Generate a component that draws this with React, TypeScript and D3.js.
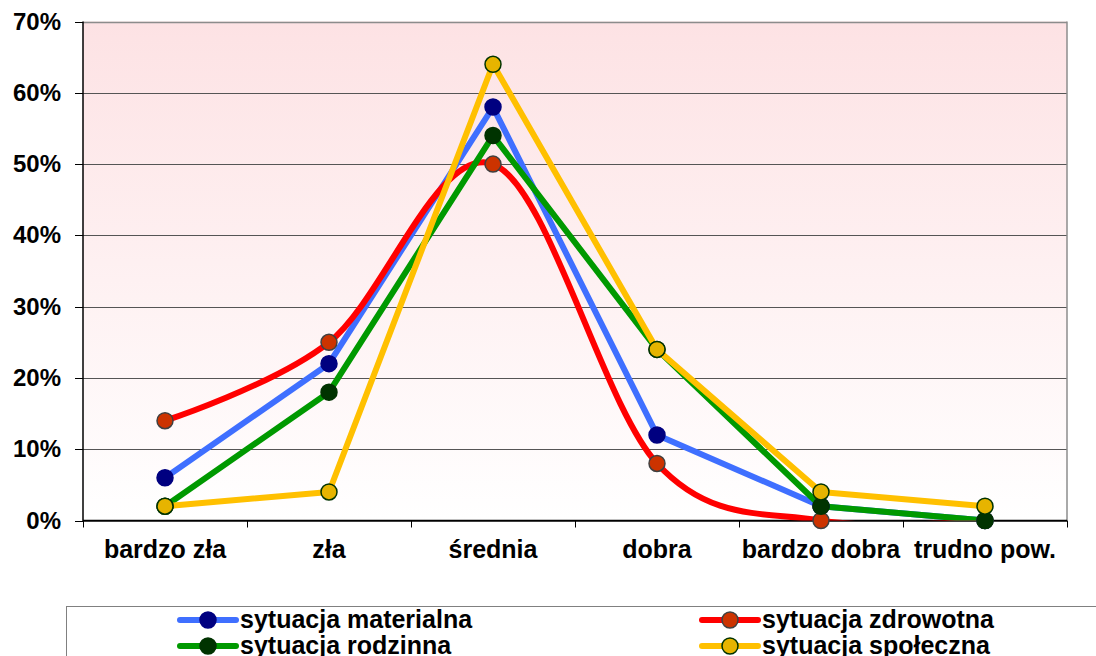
import React from "react";
import * as d3 from "d3";

// categories and series values (percent)
const categories = ["bardzo zła", "zła", "średnia", "dobra", "bardzo dobra", "trudno pow."];
const materialna = [6, 22, 58, 12, 2, 0];
const zdrowotna = [14, 25, 50, 8, 0, 0];
const rodzinna = [2, 18, 54, 24, 2, 0];
const spoleczna = [2, 4, 64, 24, 4, 2];
const yTicks = [0, 10, 20, 30, 40, 50, 60, 70];

const series = [
  { name: "sytuacja materialna", values: materialna, line: "#3F6FFF", fill: "#000080", stroke: "#000080", smooth: false },
  { name: "sytuacja zdrowotna", values: zdrowotna, line: "#FF0000", fill: "#CC3300", stroke: "#404040", smooth: true },
  { name: "sytuacja rodzinna", values: rodzinna, line: "#009900", fill: "#003300", stroke: "#003300", smooth: false },
  { name: "sytuacja społeczna", values: spoleczna, line: "#FFC000", fill: "#E6B400", stroke: "#003300", smooth: false },
];

export default function App() {
  const width = 1096;
  const height = 656;
  const left = 83;
  const right = 1067;
  const top = 21.5;
  const bottom = 520.5;

  const x = d3.scaleBand().domain(categories).range([left, right]);
  const y = d3.scaleLinear().domain([0, 70]).range([bottom, top]);
  const cx = (i: number) => (x(categories[i]) as number) + x.bandwidth() / 2;

  const straight = d3.line<number>().x((_, i) => cx(i)).y(d => y(d));
  const smooth = d3.line<number>().x((_, i) => cx(i)).y(d => y(d)).curve(d3.curveCardinal.tension(0));

  const font = "'Liberation Sans', Arial, sans-serif";

  // legend: 2 columns, row-major
  const legendCols = [180, 702];
  const legendRows = [620, 646];

  return (
    <svg width={width} height={height} style={{ position: "absolute", left: 0, top: 0, display: "block" }}>
      <defs>
        <linearGradient id="bg" x1="0" y1="0" x2="0" y2="1">
          <stop offset="0%" stopColor="#FDE2E4" />
          <stop offset="100%" stopColor="#FFFFFF" />
        </linearGradient>
        <clipPath id="plot">
          <rect x={left} y={top - 15} width={right - left} height={bottom - top + 15} />
        </clipPath>
      </defs>
      <rect width={width} height={height} fill="#fff" />
      <rect x={left} y={top} width={right - left} height={bottom - top} fill="url(#bg)" />

      {/* gridlines */}
      {yTicks.map(t => (
        <line key={t} x1={left} x2={right} y1={Math.round(y(t)) + 0.5} y2={Math.round(y(t)) + 0.5}
          stroke={t === 70 ? "#8c8c8c" : "#555"} strokeWidth={t === 70 ? 1.5 : 1} />
      ))}
      <line x1={right} x2={right} y1={top} y2={bottom} stroke="#8c8c8c" strokeWidth={1.5} />

      {/* axes */}
      <line x1={left} x2={left} y1={top} y2={bottom + 0.5} stroke="#000" strokeWidth={1.5} />
      <line x1={left} x2={right} y1={bottom} y2={bottom} stroke="#000" strokeWidth={1.5} />
      {yTicks.map(t => (
        <g key={t}>
          <line x1={left - 8} x2={left} y1={Math.round(y(t)) + 0.5} y2={Math.round(y(t)) + 0.5} stroke="#000" />
          <text x={61} y={y(t) + 8} textAnchor="end" fontFamily={font} fontWeight="bold" fontSize={24} fill="#000">
            {t}%
          </text>
        </g>
      ))}
      {categories.map((c, i) => (
        <line key={"t" + i} x1={Math.round(x(c) as number) + 0.5} x2={Math.round(x(c) as number) + 0.5}
          y1={bottom} y2={bottom + 7} stroke="#000" />
      ))}
      <line x1={right + 0.5} x2={right + 0.5} y1={bottom} y2={bottom + 7} stroke="#000" />
      {categories.map((c, i) => (
        <text key={c} x={cx(i)} y={558} textAnchor="middle" fontFamily={font} fontWeight="bold" fontSize={25} fill="#000">
          {c}
        </text>
      ))}

      {/* series */}
      <g clipPath="url(#plot)">
        {series.map(s => (
          <path key={s.name} d={(s.smooth ? smooth : straight)(s.values) || ""} fill="none"
            stroke={s.line} strokeWidth={6} strokeLinejoin="round" strokeLinecap="round" />
        ))}
      </g>
      {series.map(s => (
        <g key={s.name + "m"}>
          {s.values.map((v, i) => (
            <circle key={i} cx={cx(i)} cy={y(v)} r={8} fill={s.fill} stroke={s.stroke} strokeWidth={1.5} />
          ))}
        </g>
      ))}

      {/* legend */}
      <rect x={66.5} y={606.5} width={1100} height={100} fill="#fff" stroke="#808080" strokeWidth={1} />
      {series.map((s, k) => {
        const lx = legendCols[k % 2];
        const ly = legendRows[Math.floor(k / 2)];
        return (
          <g key={s.name + "l"}>
            <line x1={lx} x2={lx + 56} y1={ly} y2={ly} stroke={s.line} strokeWidth={6} strokeLinecap="round" />
            <circle cx={lx + 28} cy={ly} r={8} fill={s.fill} stroke={s.stroke} strokeWidth={1.5} />
            <text x={lx + 60} y={ly + 8} fontFamily={font} fontWeight="bold" fontSize={25} fill="#000">
              {s.name}
            </text>
          </g>
        );
      })}
    </svg>
  );
}
